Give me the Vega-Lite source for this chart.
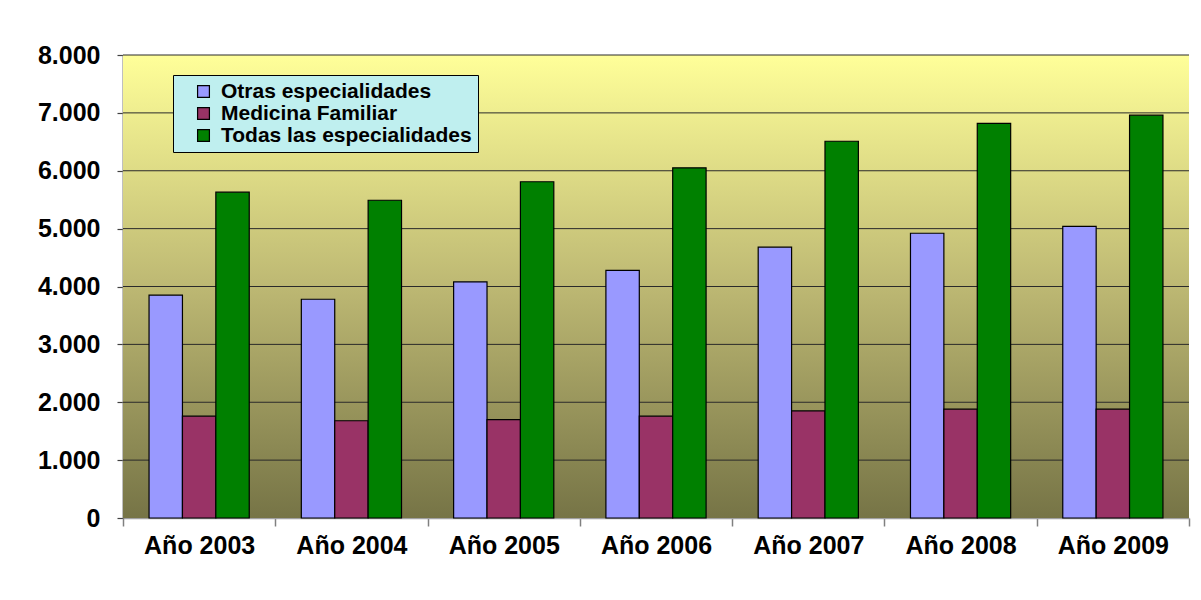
{
  "$schema": "https://vega.github.io/schema/vega-lite/v6.json",
  "width": 1066,
  "height": 463,
  "autosize": {"type": "none"},
  "padding": {"left": 123, "top": 55, "right": 12, "bottom": 82},
  "background": "#ffffff",
  "datasets": {
    "datos": [
      {"anio": "Año 2003", "serie": "Otras especialidades", "valor": 3850},
      {"anio": "Año 2003", "serie": "Medicina Familiar", "valor": 1760},
      {"anio": "Año 2003", "serie": "Todas las especialidades", "valor": 5630},
      {"anio": "Año 2004", "serie": "Otras especialidades", "valor": 3780},
      {"anio": "Año 2004", "serie": "Medicina Familiar", "valor": 1680},
      {"anio": "Año 2004", "serie": "Todas las especialidades", "valor": 5490},
      {"anio": "Año 2005", "serie": "Otras especialidades", "valor": 4080},
      {"anio": "Año 2005", "serie": "Medicina Familiar", "valor": 1700},
      {"anio": "Año 2005", "serie": "Todas las especialidades", "valor": 5810},
      {"anio": "Año 2006", "serie": "Otras especialidades", "valor": 4280},
      {"anio": "Año 2006", "serie": "Medicina Familiar", "valor": 1760},
      {"anio": "Año 2006", "serie": "Todas las especialidades", "valor": 6050},
      {"anio": "Año 2007", "serie": "Otras especialidades", "valor": 4680},
      {"anio": "Año 2007", "serie": "Medicina Familiar", "valor": 1850},
      {"anio": "Año 2007", "serie": "Todas las especialidades", "valor": 6510},
      {"anio": "Año 2008", "serie": "Otras especialidades", "valor": 4920},
      {"anio": "Año 2008", "serie": "Medicina Familiar", "valor": 1880},
      {"anio": "Año 2008", "serie": "Todas las especialidades", "valor": 6820},
      {"anio": "Año 2009", "serie": "Otras especialidades", "valor": 5040},
      {"anio": "Año 2009", "serie": "Medicina Familiar", "valor": 1880},
      {"anio": "Año 2009", "serie": "Todas las especialidades", "valor": 6960}
    ],
    "rejilla": [
      {"v": 1000}, {"v": 2000}, {"v": 3000}, {"v": 4000},
      {"v": 5000}, {"v": 6000}, {"v": 7000}, {"v": 8000}
    ],
    "fondo": [{"top": 8000, "bottom": 0}]
  },
  "layer": [
    {
      "data": {"name": "fondo"},
      "mark": {
        "type": "rect",
        "fill": {
          "gradient": "linear",
          "x1": 0, "y1": 0, "x2": 0, "y2": 1,
          "stops": [
            {"offset": 0, "color": "#FFFF99"},
            {"offset": 0.5, "color": "#BDB873"},
            {"offset": 1, "color": "#767446"}
          ]
        }
      },
      "encoding": {
        "y": {"field": "top", "type": "quantitative"},
        "y2": {"field": "bottom"}
      }
    },
    {
      "data": {"name": "rejilla"},
      "mark": {"type": "rule", "color": "#2a2a2a", "strokeWidth": 1},
      "encoding": {
        "y": {"field": "v", "type": "quantitative"}
      }
    },
    {
      "data": {"name": "datos"},
      "mark": {"type": "bar", "stroke": "#000000", "strokeWidth": 1.2},
      "encoding": {
        "x": {
          "field": "anio",
          "type": "nominal",
          "sort": null,
          "title": null,
          "scale": {"paddingInner": 0, "paddingOuter": 0},
          "axis": {
            "labelAngle": 0,
            "labelFont": "Liberation Sans",
            "labelFontWeight": "bold",
            "labelFontSize": 25,
            "labelColor": "#000000",
            "labelPadding": 7,
            "tickBand": "extent",
            "tickSize": 8,
            "tickColor": "#808080",
            "tickWidth": 1.5,
            "domainColor": "#a0a0a0",
            "domainWidth": 1.5,
            "grid": false
          }
        },
        "xOffset": {
          "field": "serie",
          "type": "nominal",
          "sort": ["Otras especialidades", "Medicina Familiar", "Todas las especialidades"],
          "scale": {"paddingInner": 0, "paddingOuter": 0.78}
        },
        "y": {
          "field": "valor",
          "type": "quantitative",
          "title": null,
          "scale": {"domain": [0, 8000], "nice": false},
          "axis": {
            "values": [0, 1000, 2000, 3000, 4000, 5000, 6000, 7000, 8000],
            "format": ",.0f",
            "labelFont": "Liberation Sans",
            "labelFontWeight": "bold",
            "labelFontSize": 25,
            "labelColor": "#000000",
            "labelPadding": 17,
            "tickSize": 6,
            "tickColor": "#404040",
            "tickWidth": 1.2,
            "domainColor": "#808080",
            "domainWidth": 2,
            "grid": false
          }
        },
        "color": {
          "field": "serie",
          "type": "nominal",
          "sort": ["Otras especialidades", "Medicina Familiar", "Todas las especialidades"],
          "scale": {
            "domain": ["Otras especialidades", "Medicina Familiar", "Todas las especialidades"],
            "range": ["#9999FF", "#993366", "#008000"]
          },
          "legend": {
            "title": null,
            "orient": "none",
            "legendX": 50,
            "legendY": 20,
            "padding": 6,
            "symbolOffset": 14,
            "symbolType": "square",
            "symbolSize": 140,
            "symbolStrokeColor": "#000000",
            "symbolStrokeWidth": 1.2,
            "labelFont": "Liberation Sans",
            "labelFontWeight": "bold",
            "labelFontSize": 21,
            "labelColor": "#000000",
            "labelOffset": 7,
            "labelLimit": 400,
            "rowPadding": 0,
            "strokeColor": "#000000",
            "fillColor": "#BFEFEF"
          }
        }
      }
    }
  ],
  "config": {
    "locale": {
      "number": {"decimal": ",", "thousands": ".", "grouping": [3], "currency": ["", " €"]}
    },
    "view": {"stroke": null}
  }
}
